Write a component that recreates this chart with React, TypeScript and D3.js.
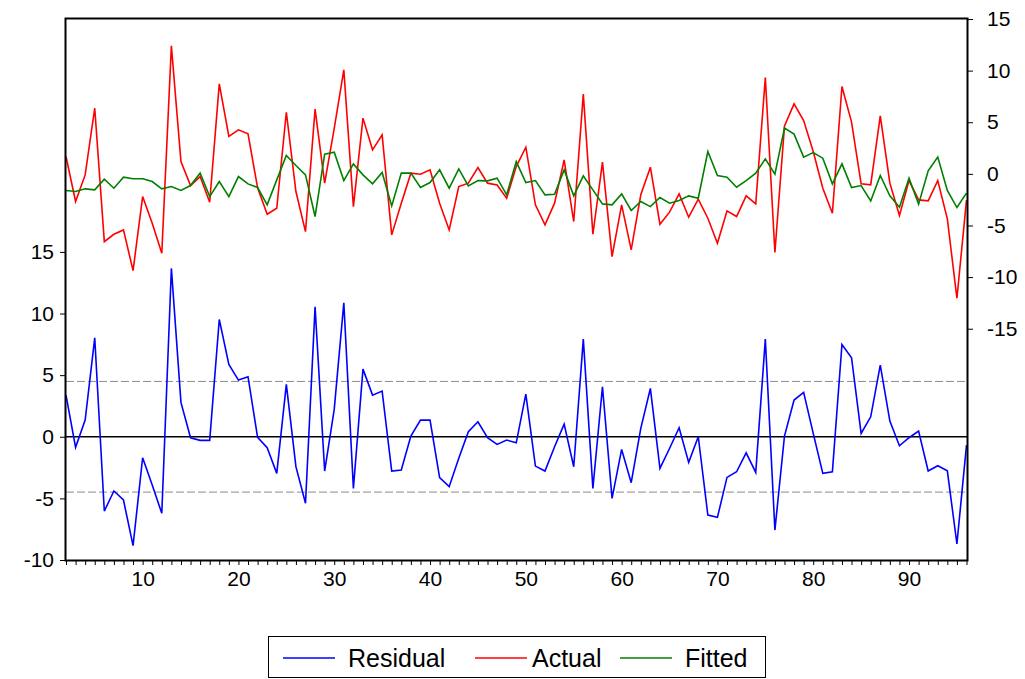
import React, { useEffect, useRef } from 'react'
import * as d3 from 'd3'

// observations 2..96
const startObs = 2

const actual = [
  1.68, -2.68, -0.1, 6.36, -6.56, -5.85, -5.43, -9.37, -2.2, -4.78,
  -7.69, 12.4, 1.19, -1.13, -0.26, -2.75, 8.72, 3.62, 4.26, 3.88,
  -1.35, -3.91, -3.33, 5.97, -1.71, -5.59, 6.27, -0.9, 4.4, 10.08,
  -3.17, 5.4, 2.33, 3.78, -5.91, -2.84, 0.07, -0.03, 0.39, -2.84,
  -5.43, -1.23, -0.9, 0.61, -0.9, -1.07, -2.36, 0.7, 2.58, -3.0,
  -4.94, -2.84, 1.36, -4.62, 7.72, -5.85, 1.13, -8.01, -3.0, -7.36,
  -2.03, 0.65, -4.88, -3.71, -1.94, -4.2, -2.45, -4.3, -6.72, -3.59,
  -4.13, -2.13, -2.91, 9.33, -7.62, 4.65, 6.78, 5.17, 2.16, -1.39,
  -3.81, 8.46, 5.01, -0.97, -1.07, 5.62, -0.9, -4.04, -0.65, -2.52,
  -2.62, -0.65, -4.36, -12.05, -2.54
]

const fitted = [
  -1.61, -1.71, -1.45, -1.55, -0.52, -1.39, -0.32, -0.48, -0.48, -0.74,
  -1.45, -1.23, -1.61, -1.13, 0.07, -2.2, -0.74, -2.2, -0.26, -0.97,
  -1.32, -3.0, -0.58, 1.78, 0.81, -0.1, -4.13, 1.91, 2.1, -0.65,
  0.97, -0.1, -0.97, 0.13, -3.1, 0.07, 0.07, -1.32, -0.84, 0.39,
  -1.39, 0.48, -1.16, -0.65, -0.68, -0.42, -2.03, 1.19, -0.84, -0.65,
  -2.03, -1.97, 0.39, -2.13, -0.19, -1.55, -2.91, -3.0, -1.94, -3.55,
  -2.68, -3.17, -2.29, -2.84, -2.58, -2.13, -2.36, 2.16, -0.16, -0.32,
  -1.29, -0.65, 0.07, 1.45, -0.03, 4.43, 3.85, 1.62, 2.06, 1.52,
  -0.97, 0.97, -1.32, -1.13, -2.62, -0.16, -2.13, -3.23, -0.42, -2.94,
  0.29, 1.62, -1.61, -3.26, -1.87
]

const residual = [
  3.38, -0.86, 1.35, 8.03, -6.03, -4.4, -5.13, -8.84, -1.7, -3.92,
  -6.21, 13.66, 2.79, -0.08, -0.29, -0.29, 9.52, 5.87, 4.6, 4.87,
  -0.05, -0.89, -2.97, 4.25, -2.43, -5.4, 10.54, -2.78, 2.22, 10.87,
  -4.19, 5.49, 3.38, 3.71, -2.78, -2.7, 0.06, 1.35, 1.35, -3.32,
  -4.05, -1.75, 0.41, 1.22, -0.08, -0.62, -0.27, -0.49, 3.46, -2.38,
  -2.78, -0.81, 1.03, -2.43, 7.92, -4.19, 4.06, -5.0, -1.03, -3.73,
  0.68, 3.92, -2.57, -0.95, 0.73, -2.08, 0, -6.35, -6.54, -3.3,
  -2.84, -1.3, -2.89, 7.92, -7.57, 0.06, 2.98, 3.6, 0.27, -2.97,
  -2.84, 7.49, 6.41, 0.27, 1.62, 5.82, 1.27, -0.73, -0.08, 0.46,
  -2.78, -2.35, -2.76, -8.7, -0.67
]

const residualSE = 4.49
const leftTicks = [-10, -5, 0, 5, 10, 15]
const rightTicks = [-15, -10, -5, 0, 5, 10, 15]
const xLabels = [10, 20, 30, 40, 50, 60, 70, 80, 90]

const seriesNames = ['Residual', 'Actual', 'Fitted']
const seriesColors = ['#0000ff', '#ff0000', '#008000']

const width = 1025
const height = 679
const plot = { left: 66, right: 967, top: 19, bottom: 560 }
const font = 'Arial, "Liberation Sans", sans-serif'

const App = () => {
  const ref = useRef<SVGSVGElement>(null)

  useEffect(() => {
    const svg = d3.select(ref.current)
    svg.selectAll('*').remove()

    const obs = residual.map((_, i) => startObs + i)

    const x = d3.scaleLinear().domain([startObs, startObs + residual.length - 1]).range([plot.left, plot.right - 0.5])
    const yL = d3.scaleLinear().domain([-10, 33.9]).range([plot.bottom, plot.top])
    const yR = d3.scaleLinear().domain([-37.4, 15]).range([plot.bottom, plot.top])

    // reference lines at +/- one standard error
    svg.append('g')
      .selectAll('line')
      .data([residualSE, -residualSE])
      .enter()
      .append('line')
      .attr('x1', plot.left)
      .attr('x2', plot.right)
      .attr('y1', d => yL(d))
      .attr('y2', d => yL(d))
      .attr('stroke', '#8c8c8c')
      .attr('stroke-width', 1)
      .attr('stroke-dasharray', '8,3')

    svg.append('line')
      .attr('x1', plot.left)
      .attr('x2', plot.right)
      .attr('y1', yL(0))
      .attr('y2', yL(0))
      .attr('stroke', '#000')
      .attr('stroke-width', 1.3)

    // axes (plain hyphen for negatives, like the original)
    const plain = (d: d3.NumberValue) => String(d)
    const axisLeft = d3.axisLeft(yL).tickValues(leftTicks).tickSize(6).tickPadding(6).tickFormat(plain)
    const axisRight = d3.axisRight(yR).tickValues(rightTicks).tickSize(6).tickPadding(14).tickFormat(plain)
    const axisBottom = d3.axisBottom(x)
      .tickValues(obs)
      .tickSize(5)
      .tickPadding(6)
      .tickFormat(d => (xLabels.indexOf(+d) !== -1 ? String(d) : ''))

    const gl = svg.append('g').attr('transform', 'translate(' + plot.left + ',0)').call(axisLeft)
    const gr = svg.append('g').attr('transform', 'translate(' + plot.right + ',0)').call(axisRight)
    const gb = svg.append('g').attr('transform', 'translate(0,' + plot.bottom + ')').call(axisBottom)

    ;[gl, gr, gb].forEach(g => {
      g.select('.domain').remove()
      g.selectAll('text').attr('font-family', font).attr('font-size', 21).attr('fill', '#000')
      g.selectAll('line').attr('stroke', '#000')
    })

    // series
    const lineL = d3.line<number>().x((_, i) => x(obs[i])).y(d => yL(d))
    const lineR = d3.line<number>().x((_, i) => x(obs[i])).y(d => yR(d))

    svg.append('path').datum(residual).attr('d', lineL).attr('fill', 'none')
      .attr('stroke', seriesColors[0]).attr('stroke-width', 1.6)
    svg.append('path').datum(actual).attr('d', lineR).attr('fill', 'none')
      .attr('stroke', seriesColors[1]).attr('stroke-width', 1.6)
    svg.append('path').datum(fitted).attr('d', lineR).attr('fill', 'none')
      .attr('stroke', seriesColors[2]).attr('stroke-width', 1.6)

    // frame
    svg.append('rect')
      .attr('x', plot.left - 0.5)
      .attr('y', plot.top - 0.5)
      .attr('width', plot.right - plot.left + 1)
      .attr('height', plot.bottom - plot.top + 1)
      .attr('fill', 'none')
      .attr('stroke', '#000')
      .attr('stroke-width', 2)

    // legend
    const legend = svg.append('g')
    legend.append('rect')
      .attr('x', 268.5).attr('y', 636.5).attr('width', 497).attr('height', 41)
      .attr('fill', '#fff').attr('stroke', '#000').attr('stroke-width', 1)

    const itemX = [283, 475, 620]
    seriesNames.forEach((name, i) => {
      legend.append('line')
        .attr('x1', itemX[i]).attr('x2', itemX[i] + 52)
        .attr('y1', 658).attr('y2', 658)
        .attr('stroke', seriesColors[i]).attr('stroke-width', 1.6)
      legend.append('text')
        .attr('x', itemX[i] + (i === 1 ? 57 : 65)).attr('y', 667)
        .attr('font-family', font).attr('font-size', 25)
        .text(name)
    })
  }, [])

  return (
    <svg
      ref={ref}
      width={width}
      height={height}
      style={{ position: 'absolute', left: 0, top: 0, background: '#fff' }}
    />
  )
}

export default App
